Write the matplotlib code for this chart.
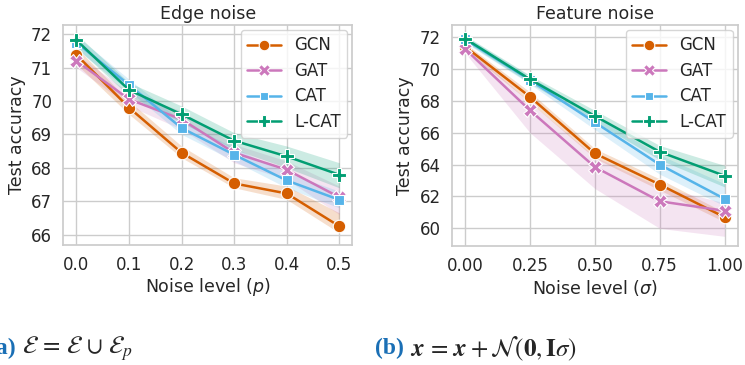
import numpy as np
import matplotlib
matplotlib.use("Agg")
import matplotlib.pyplot as plt
import seaborn as sns

sns.set_theme(style="whitegrid")
plt.rcParams['font.family'] = ['DejaVu Sans']

models = ["GCN", "GAT", "CAT", "L-CAT"]
colors = ["#D55E00", "#CC78BC", "#56B4E9", "#029E73"]
markers = ["o", "X", "s", "P"]
msizes = [9, 9.5, 7.5, 9.5]

# edge noise: probability p of adding random edges
edge_p = [0.0, 0.1, 0.2, 0.3, 0.4, 0.5]
edge_mean = {
    "GCN":   [71.38, 69.80, 68.45, 67.53, 67.23, 66.25],
    "GAT":   [71.20, 70.05, 69.45, 68.45, 67.94, 67.12],
    "CAT":   [71.75, 70.48, 69.19, 68.39, 67.62, 67.04],
    "L-CAT": [71.82, 70.33, 69.60, 68.81, 68.34, 67.79],
}
edge_lo = {
    "GCN":   [71.10, 69.60, 68.30, 67.40, 67.05, 66.05],
    "GAT":   [71.00, 69.85, 69.15, 68.15, 67.65, 66.60],
    "CAT":   [71.55, 70.30, 69.00, 68.20, 67.40, 66.80],
    "L-CAT": [71.60, 70.15, 69.35, 68.55, 68.00, 67.40],
}
edge_hi = {
    "GCN":   [71.60, 70.00, 68.65, 67.70, 67.45, 66.65],
    "GAT":   [71.40, 70.25, 69.70, 68.70, 68.20, 67.45],
    "CAT":   [71.95, 70.65, 69.40, 68.60, 67.85, 67.30],
    "L-CAT": [72.00, 70.55, 69.85, 69.05, 68.65, 68.15],
}

# feature noise: gaussian sigma added to node features
feat_sigma = [0.0, 0.25, 0.5, 0.75, 1.0]
feat_mean = {
    "GCN":   [71.40, 68.25, 64.70, 62.75, 60.70],
    "GAT":   [71.25, 67.40, 63.85, 61.70, 61.10],
    "CAT":   [71.85, 69.30, 66.65, 64.00, 61.85],
    "L-CAT": [71.90, 69.35, 67.05, 64.80, 63.30],
}
feat_lo = {
    "GCN":   [71.20, 67.90, 64.40, 62.40, 60.40],
    "GAT":   [71.00, 66.00, 62.50, 60.00, 59.50],
    "CAT":   [71.65, 69.05, 66.20, 63.40, 61.40],
    "L-CAT": [71.70, 69.10, 66.70, 64.30, 62.60],
}
feat_hi = {
    "GCN":   [71.60, 68.55, 65.00, 63.10, 61.00],
    "GAT":   [71.45, 67.90, 64.50, 62.60, 61.60],
    "CAT":   [72.05, 69.55, 67.05, 64.60, 62.80],
    "L-CAT": [72.10, 69.60, 67.40, 65.20, 63.95],
}


def draw(ax, x, mean, lo, hi):
    for m, c, mk, ms in zip(models, colors, markers, msizes):
        ax.fill_between(x, lo[m], hi[m], color=c, alpha=0.2, linewidth=0)
        ax.plot(x, mean[m], color=c, marker=mk, markersize=ms, lw=1.8,
                markeredgecolor="white", markeredgewidth=0.8, label=m)
    ax.tick_params(labelsize=12, pad=2)
    ax.set_ylabel("Test accuracy", fontsize=12.5, labelpad=4)
    ax.legend(loc="upper right", fontsize=12, markerscale=0.85,
              borderaxespad=0.3, handlelength=2.0, labelspacing=0.45,
              frameon=True)


fig = plt.figure(figsize=(7.45, 3.65), dpi=100)

ax1 = fig.add_axes([0.085, 0.33, 0.388, 0.602])
draw(ax1, edge_p, edge_mean, edge_lo, edge_hi)
ax1.set_xticks(edge_p)
ax1.set_xticklabels(["0.0", "0.1", "0.2", "0.3", "0.4", "0.5"])
ax1.set_yticks([66, 67, 68, 69, 70, 71, 72])
ax1.set_ylim(65.7, 72.28)
ax1.set_title("Edge noise", fontsize=12.5, pad=4)
ax1.set_xlabel("Noise level ($p$)", fontsize=12.5, labelpad=2)

ax2 = fig.add_axes([0.607, 0.325, 0.383, 0.607])
draw(ax2, feat_sigma, feat_mean, feat_lo, feat_hi)
ax2.set_xticks(feat_sigma)
ax2.set_xticklabels(["0.00", "0.25", "0.50", "0.75", "1.00"])
ax2.set_yticks([60, 62, 64, 66, 68, 70, 72])
ax2.set_ylim(58.87, 72.77)
ax2.set_title("Feature noise", fontsize=12.5, pad=4)
ax2.set_xlabel(r"Noise level ($\sigma$)", fontsize=12.5, labelpad=2)

# sub-figure captions
cap_blue = "#1a6fb5"
fig.text(-0.016, 0.045, "(a)", color=cap_blue, fontsize=17, fontweight="bold",
         family="Liberation Serif", va="center", ha="left")
fig.text(0.029, 0.045, r"$\mathcal{E}\,=\,\mathcal{E}\,\cup\,\mathcal{E}_p$",
         fontsize=18, math_fontfamily="stix", va="center", ha="left")
fig.text(0.503, 0.045, "(b)", color=cap_blue, fontsize=17, fontweight="bold",
         family="Liberation Serif", va="center", ha="left")
fig.text(0.551, 0.045,
         r"$\mathbfit{x}\,=\,\mathbfit{x}+\mathcal{N}(\mathbf{0},\mathbf{I}\sigma)$",
         fontsize=18, math_fontfamily="stix", va="center", ha="left")

fig.savefig("out.png", dpi=100)
